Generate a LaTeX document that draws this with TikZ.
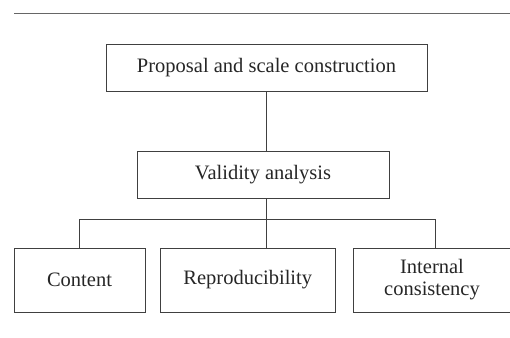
\documentclass[tikz,border=0pt]{standalone}
\usepackage{fontspec}
\setmainfont{Liberation Serif}
\begin{document}
\begin{tikzpicture}[x=1pt,y=-1pt,
  box/.style={draw=black!75, line width=0.8pt, fill=white, inner sep=0pt, align=center,
    text=black!85, font=\fontsize{20.5}{22}\selectfont},
  conn/.style={draw=black!75, line width=0.8pt}]
\useasboundingbox (0,0) rectangle (510,337);
\draw[draw=black!60, line width=0.9pt] (14,13.5) coordinate (tl) -- (510,13.5) coordinate (tr);
\node[box, minimum width=321pt, minimum height=47pt] (b1) at (266.5,67.5) {Proposal and scale construction};
\node[box, minimum width=252pt, minimum height=47.5pt] (b2) at (263,175) {Validity analysis};
\node[box, minimum width=131pt, minimum height=64pt] (c1) at (79.5,280) {Content};
\node[box, minimum width=174.5pt, minimum height=64pt] (c2) at (247.75,280) {Reproducibility};
\node[box, minimum width=158pt, minimum height=64pt] (c3) at (432,280) {Internal\\consistency};
\coordinate (m) at (266.3,219.3);
\coordinate (l) at (79.5,219.3);
\coordinate (r) at (435,219.3);
\draw[conn] (b1.south -| m) -- (b2.north -| m);
\draw[conn] (b2.south -| m) -- (m);
\draw[conn] (c1.north -| l) -- (l) -- (r) -- (c3.north -| r);
\draw[conn] (m) -- (c2.north -| m);
\end{tikzpicture}
\end{document}
